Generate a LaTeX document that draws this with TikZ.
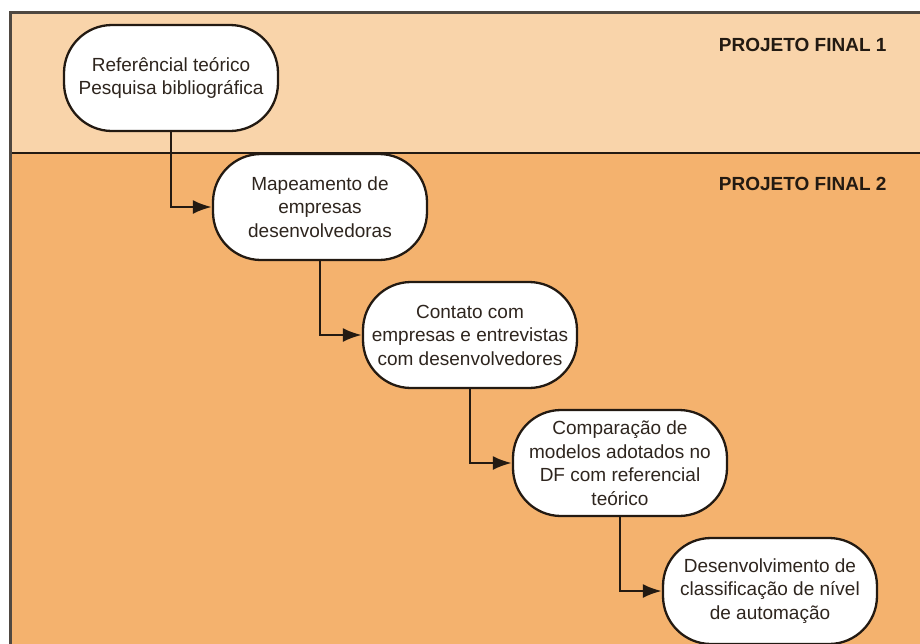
\documentclass[tikz,border=0pt]{standalone}
\usepackage{fontspec}
\setmainfont{Liberation Sans}
\usetikzlibrary{arrows.meta}
\definecolor{bandlight}{HTML}{F9D4AA}
\definecolor{banddark}{HTML}{F4B26E}
\definecolor{ink}{HTML}{231A12}
\tikzset{
  stage/.style={draw=ink, line width=2.3pt, fill=white, rounded corners=48pt,
    minimum width=214pt, minimum height=106pt, align=center, inner sep=0pt,
    font=\fontsize{19}{23.5}\selectfont, text=ink!95},
  flow/.style={draw=ink, line width=2.6pt, -{Latex[length=19pt,width=14pt]}},
  phase/.style={font=\fontsize{19}{22}\selectfont\bfseries, text=ink, anchor=base east}
}
\begin{document}
\begin{tikzpicture}[x=1pt,y=-1pt]
\useasboundingbox (0,0) rectangle (920,643);
\fill[white] (0,0) rectangle (920,643);
% swimlane bands
\fill[bandlight] (10,12) rectangle (930,153);
\fill[banddark] (10,153) rectangle (930,660);
\draw[ink, line width=2.2pt] (10,153) -- (930,153);
\draw[ink!80, line width=3pt] (10,660) -- (10,12) -- (930,12);
\node[phase] (pf1) at (890,51) {PROJETO FINAL 1};
\node[phase] (pf2) at (890,190) {PROJETO FINAL 2};
% stages
\node[stage] (s1) at (171,78) {Referêncial teórico\\Pesquisa bibliográfica};
\node[stage] (s2) at (320,207) {Mapeamento de\\empresas\\desenvolvedoras};
\node[stage] (s3) at (470,335) {Contato com\\empresas e entrevistas\\com desenvolvedores};
\node[stage] (s4) at (620,463) {Comparação de\\modelos adotados no\\DF com referencial\\teórico};
\node[stage] (s5) at (770,591) {Desenvolvimento de\\classificação de nível\\de automação};
% connectors
\draw[flow] (s1.south) |- (s2.west);
\draw[flow] (s2.south) |- (s3.west);
\draw[flow] (s3.south) |- (s4.west);
\draw[flow] (s4.south) |- (s5.west);
\end{tikzpicture}
\end{document}
